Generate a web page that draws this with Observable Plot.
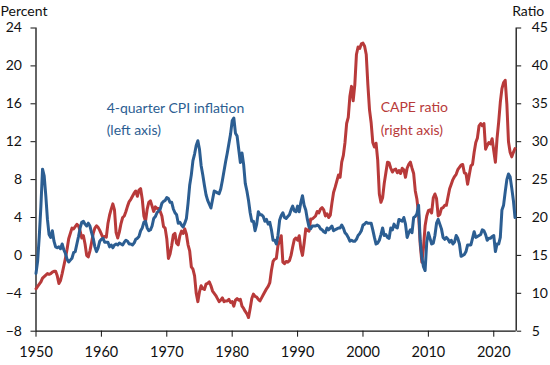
<!DOCTYPE html>
<html><head><meta charset="utf-8">
<script src="https://cdn.jsdelivr.net/npm/d3@7"></script>
<script src="https://cdn.jsdelivr.net/npm/@observablehq/plot@0.6"></script>
<style>body{margin:0;background:#fff} #chart svg{display:block}</style>
</head><body><div id="chart"></div>
<script>
// Quarterly series, first value = 1950 Q1
const startYear = 1950;
const cpiInflation = [
 -1.9,-0.6,2.0,5.2,  9.1,8.4,6.3,3.8,  2.2,1.9,2.6,1.5,  0.9,0.8,0.9,0.7,
 1.2,0.6,0.2,-0.4,  -0.7,-0.5,-0.3,0.3,  0.4,1.2,2.0,2.9,  3.5,3.6,3.3,3.1,
 3.4,3.1,2.4,1.8,  0.9,0.4,0.8,1.5,  1.7,1.8,1.4,1.4,  1.4,0.9,1.1,0.8,
 1.1,1.2,1.1,1.3,  1.2,1.1,1.4,1.6,  1.5,1.2,1.2,1.1,  1.3,1.7,1.8,2.0,
 2.6,2.9,3.5,3.6,  2.9,2.6,2.7,3.1,  3.9,4.1,4.5,4.7,  4.9,5.5,5.7,5.8,
 6.1,6.0,5.6,5.6,  4.9,4.5,4.3,3.4,  3.5,3.2,3.0,3.4,  3.9,5.5,7.4,8.5,
 10.0,10.7,11.6,12.1,  11.2,9.5,8.5,7.4,  6.4,5.8,5.4,5.0,  5.9,6.8,6.7,6.6,
 6.5,7.0,7.9,8.9,  9.9,10.8,11.8,12.8,  14.2,14.5,12.9,12.6,  11.2,9.8,10.8,9.6,
 7.6,6.8,5.8,4.5,  3.6,3.6,2.6,3.3,  4.6,4.3,4.3,4.1,  3.6,3.8,3.3,3.5,
 2.7,1.6,1.6,1.2,  2.1,3.7,4.2,4.5,  4.0,3.9,4.1,4.3,  4.8,5.2,4.7,4.6,
 5.2,4.6,5.6,6.3,  5.3,4.8,3.8,3.0,  2.8,3.1,3.1,3.1,  3.2,3.1,2.8,2.7,
 2.5,2.4,2.9,2.7,  2.9,3.1,2.6,2.7,  2.8,2.9,2.9,3.2,  2.9,2.4,2.2,1.9,
 1.5,1.6,1.5,1.5,  1.7,2.1,2.3,2.6,  3.2,3.3,3.5,3.4,  3.4,3.4,2.7,1.9,
 1.2,1.3,1.6,2.2,  2.9,2.1,2.2,1.9,  1.8,2.9,2.7,3.3,  3.0,2.9,3.8,3.7,
 3.6,4.0,3.3,1.9,  2.4,2.7,2.4,4.0,  4.1,4.4,5.3,1.6,  -0.2,-1.2,-1.6,1.4,
 2.4,1.8,1.2,1.3,  2.1,3.4,3.8,3.3,  2.8,1.9,1.7,1.9,  1.7,1.4,1.6,1.2,
 1.4,2.1,1.8,1.2,  -0.1,0.0,0.1,0.4,  1.1,1.1,1.1,1.8,  2.5,1.9,2.0,2.1,
 2.2,2.7,2.6,2.2,  1.6,1.8,1.8,2.0,  2.1,0.4,1.2,1.2,  1.9,4.8,5.3,6.7,
 8.0,8.6,8.3,7.1,  5.8,4.0
];
const capeRatio = [
 10.6,10.9,11.2,11.5,  12.0,12.2,12.4,12.6,  12.5,12.6,12.8,12.9,  12.9,12.3,11.3,11.7,
 12.6,13.6,14.6,15.8,  17.2,17.9,18.6,18.5,  18.8,19.1,18.9,18.2,  17.3,17.6,16.5,15.0,
 14.8,15.6,16.7,17.9,  18.6,18.9,18.7,18.3,  17.8,17.3,17.5,17.4,  19.2,20.3,21.1,21.8,
 21.0,18.0,17.3,18.1,  19.2,20.0,20.2,20.8,  21.5,22.1,22.4,22.8,  23.2,23.5,22.8,23.6,
 23.8,22.4,20.2,19.5,  21.1,22.0,22.2,21.5,  20.8,21.4,21.2,21.2,  20.8,20.2,18.8,18.6,
 17.2,14.6,15.2,16.3,  17.7,17.9,16.6,16.4,  17.6,18.2,17.9,18.5,  17.8,16.4,15.6,13.5,
 13.2,12.3,10.0,8.9,  10.2,11.0,10.6,10.5,  11.2,11.3,11.5,11.0,  10.3,10.0,9.7,9.3,
 8.9,9.1,9.4,8.9,  9.0,9.0,9.2,8.8,  8.9,8.3,9.1,9.3,  9.1,9.2,8.3,8.0,
 7.6,7.3,6.8,8.0,  9.3,9.9,9.6,9.5,  9.2,9.0,9.4,9.8,  10.2,10.6,10.9,11.4,
 13.0,14.2,14.5,14.6,  16.3,16.9,17.6,14.1,  13.9,14.2,14.1,14.3,  15.0,16.1,17.1,17.3,
 17.0,17.6,15.9,15.0,  16.6,18.5,18.3,18.2,  19.8,19.8,20.0,20.2,  20.8,20.6,21.1,21.3,
 21.0,20.2,20.5,20.0,  20.3,21.9,23.3,24.0,  24.8,25.6,25.3,27.3,  28.2,29.9,32.4,33.2,
 36.0,37.3,35.4,37.5,  41.5,42.5,42.3,42.9,  43.0,42.6,41.5,37.5,  34.2,32.5,29.9,29.3,
 29.8,27.6,23.1,22.0,  22.6,24.5,25.9,27.3,  27.2,26.5,26.0,26.3,  26.4,25.9,26.2,25.8,
 26.5,26.3,25.3,26.5,  27.0,27.3,26.5,25.8,  23.5,22.4,20.5,16.5,  14.1,16.0,18.9,20.2,
 20.9,21.0,20.6,22.6,  23.1,22.5,20.2,20.4,  21.2,21.3,21.6,21.6,  22.7,23.8,24.4,25.0,
 25.4,25.7,26.3,26.6,  26.9,27.0,25.9,25.8,  24.4,25.6,26.8,27.0,  28.6,29.9,30.5,32.1,
 32.4,32.1,32.4,29.0,  29.5,29.9,29.7,30.4,  28.8,27.3,30.4,32.6,  35.2,37.0,37.8,38.1,
 35.0,30.0,28.6,28.0,  28.6,29.1
];
const percentTicks = [-8, -4, 0, 4, 8, 12, 16, 20, 24];
const ratioTicks = [5, 10, 15, 20, 25, 30, 35, 40, 45];
const yearTicks = [1950, 1960, 1970, 1980, 1990, 2000, 2010, 2020];
const xDomain = [1950, 2023.43];

const blue = "#2c5e92";
const red = "#b83a3a";
const ink = "#111";
const font = "Lato, 'Open Sans', sans-serif";

// right (ratio) axis is mapped onto the left (percent) scale
const toPercent = d3.scaleLinear()
  .domain([ratioTicks[0], ratioTicks[ratioTicks.length - 1]])
  .range([percentTicks[0], percentTicks[percentTicks.length - 1]]);

const cpi = cpiInflation.map((v, i) => ({date: startYear + i / 4, value: v}));
const cape = capeRatio.map((v, i) => ({date: startYear + i / 4, value: v}));

const chart = Plot.plot({
  width: 550,
  height: 365,
  marginLeft: 35.5,
  marginRight: 34.3,
  marginTop: 27.5,
  marginBottom: 34.3,
  style: {fontFamily: font, fontSize: "14px", color: ink, background: "white"},
  x: {domain: xDomain},
  y: {domain: [percentTicks[0], percentTicks[percentTicks.length - 1]]},
  marks: [
    Plot.axisX(yearTicks, {tickFormat: d => String(d), tickSize: 6, tickPadding: 10, label: null, fontSize: 14.5}),
    Plot.axisY(percentTicks, {anchor: "left", tickSize: 5, tickPadding: 9, label: null, fontSize: 14}),
    Plot.axisY(ratioTicks.map(r => toPercent(r)), {anchor: "right", tickSize: 4.5, tickPadding: 11,
      tickFormat: v => String(Math.round(toPercent.invert(v))), label: null, fontSize: 14}),
    Plot.ruleX(xDomain, {stroke: ink, strokeWidth: 1.3}),
    Plot.ruleY([percentTicks[0]], {stroke: ink, strokeWidth: 1.3}),
    Plot.line(cape, {x: "date", y: d => toPercent(d.value), stroke: red, strokeWidth: 3, strokeLinejoin: "round"}),
    Plot.line(cpi, {x: "date", y: "value", stroke: blue, strokeWidth: 3, strokeLinejoin: "round"}),
    Plot.text(["4-quarter CPI inflation"], {x: 1960.8, y: 15.5, textAnchor: "start", fill: blue, fontSize: 14}),
    Plot.text(["(left axis)"], {x: 1960.8, y: 13.15, textAnchor: "start", fill: blue, fontSize: 14}),
    Plot.text(["CAPE ratio"], {x: 2002.7, y: 15.6, textAnchor: "start", fill: red, fontSize: 14}),
    Plot.text(["(right axis)"], {x: 2002.7, y: 13.2, textAnchor: "start", fill: red, fontSize: 14}),
    Plot.text(["Percent"], {frameAnchor: "top-left", dx: -35.5, dy: -22, textAnchor: "start", fill: ink, fontSize: 14}),
    Plot.text(["Ratio"], {frameAnchor: "top-right", dx: -4, dy: -22, textAnchor: "start", fill: ink, fontSize: 14})
  ]
});
document.getElementById("chart").appendChild(chart);
</script>
</body></html>
